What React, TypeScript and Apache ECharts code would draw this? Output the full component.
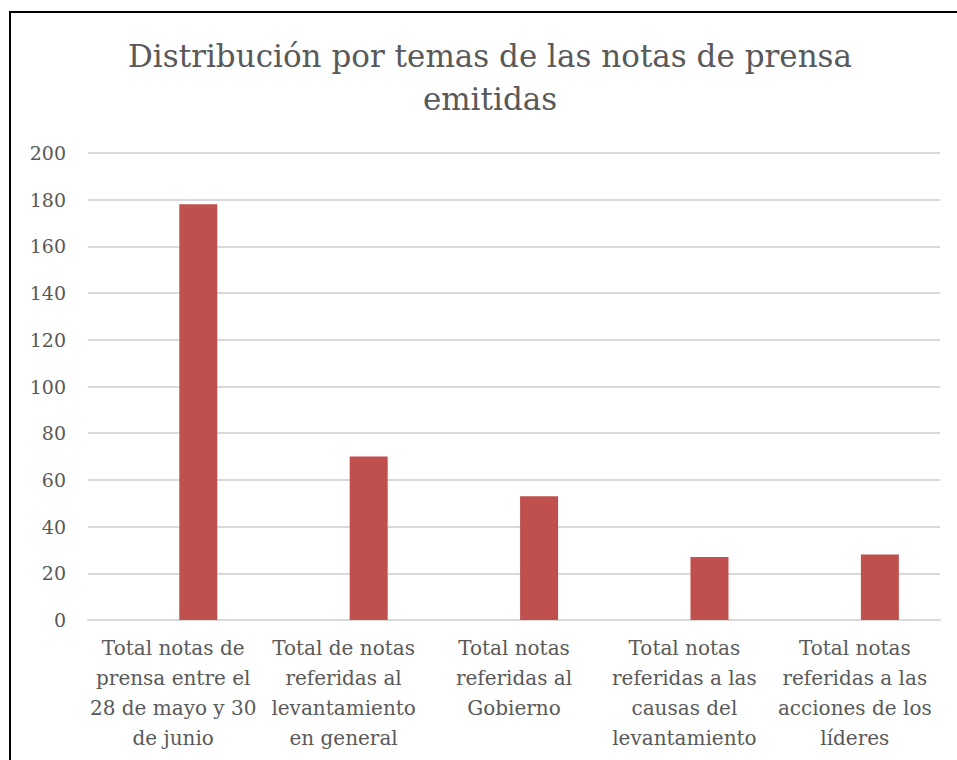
import React, { useEffect, useRef } from "react";
import * as echarts from "echarts";

const categories = [
  "Total notas de\nprensa entre el\n28 de mayo y 30\nde junio",
  "Total de notas\nreferidas al\nlevantamiento\nen general",
  "Total notas\nreferidas al\nGobierno",
  "Total notas\nreferidas a las\ncausas del\nlevantamiento",
  "Total notas\nreferidas a las\nacciones de los\nlíderes",
];
const values = [178, 70, 53, 27, 28];
const emptyValues = [null, null, null, null, null];
const titleText = "Distribución por temas de las notas de prensa\nemitidas";

const FONT = "'DejaVu Serif', serif";

export default function App() {
  const ref = useRef<HTMLDivElement>(null);
  useEffect(() => {
    if (!ref.current) return;
    const chart = echarts.init(ref.current, undefined, { renderer: "svg" });
    chart.setOption({
      animation: false,
      title: {
        text: titleText,
        left: 485,
        textAlign: "center",
        top: 29,
        textStyle: {
          fontFamily: FONT,
          fontSize: 31,
          fontWeight: "normal",
          color: "#595959",
          lineHeight: 43,
        },
      },
      graphic: [
        {
          type: "rect",
          shape: { x: 10, y: 12, width: 970, height: 780 },
          style: { fill: "none", stroke: "#000", lineWidth: 2 },
          silent: true,
        },
      ],
      grid: { left: 88, right: 17, top: 153, bottom: 140, containLabel: false },
      xAxis: {
        type: "category",
        data: categories,
        axisLine: { lineStyle: { color: "#d9d9d9", width: 2 } },
        axisTick: { show: false },
        axisLabel: {
          fontFamily: FONT,
          fontSize: 20,
          color: "#595959",
          lineHeight: 30,
          margin: 13,
          interval: 0,
        },
      },
      yAxis: {
        type: "value",
        min: 0,
        max: 200,
        interval: 20,
        axisLine: { show: false },
        axisTick: { show: false },
        splitLine: { lineStyle: { color: "#d9d9d9", width: 2 } },
        axisLabel: {
          fontFamily: FONT,
          fontSize: 19,
          color: "#595959",
          margin: 22,
        },
      },
      series: [
        {
          type: "bar",
          data: emptyValues,
          barWidth: 38,
          barGap: "32%",
          itemStyle: { color: "#4f81bd" },
        },
        {
          type: "bar",
          data: values,
          barWidth: 38,
          barGap: "32%",
          itemStyle: { color: "#c0504d" },
        },
      ],
    });
    return () => chart.dispose();
  }, []);
  return <div ref={ref} style={{ width: 957, height: 760, position: "absolute", left: 0, top: 0 }} />;
}
